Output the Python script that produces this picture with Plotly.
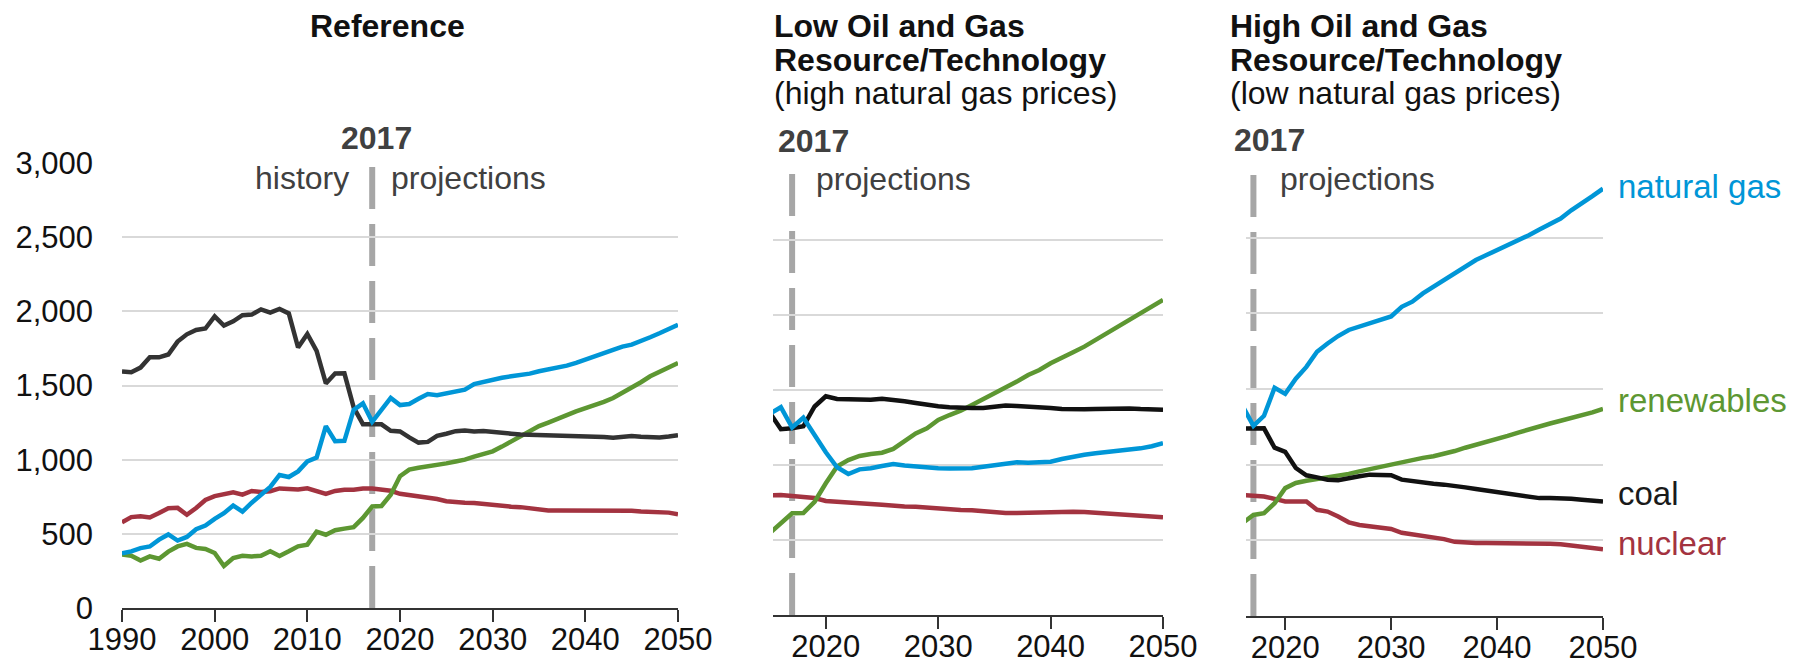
import plotly.graph_objects as go

# ---------------- data (billion kWh) ----------------
ref_years = list(range(1990, 2051))
ref_coal = [1595, 1590, 1621, 1690, 1690, 1709, 1796, 1845, 1874, 1884, 1966, 1904, 1933, 1974, 1978,
            2013, 1991, 2016, 1986, 1756, 1847, 1733, 1514, 1581, 1582, 1352, 1239, 1240, 1238, 1195,
            1190, 1150, 1115, 1120, 1160, 1175, 1192, 1196, 1190, 1194, 1190, 1180, 1175, 1170, 1168,
            1168, 1167, 1166, 1166, 1165, 1162, 1158, 1152, 1148, 1155, 1160, 1155, 1150, 1150, 1156, 1165]
ref_gas = [368, 382, 404, 415, 461, 496, 455, 479, 531, 556, 601, 639, 691, 650, 710,
           761, 816, 897, 883, 921, 988, 1014, 1226, 1125, 1127, 1335, 1380, 1255, 1340, 1416,
           1368, 1375, 1410, 1443, 1435, 1448, 1460, 1472, 1510, 1525, 1540, 1552, 1562, 1570, 1580,
           1596, 1608, 1620, 1634, 1652, 1672, 1695, 1718, 1740, 1762, 1775, 1797, 1825, 1852, 1880, 1910]
ref_nuclear = [577, 613, 619, 610, 640, 673, 675, 629, 674, 728, 754, 769, 780, 764, 789,
               782, 787, 806, 806, 799, 807, 790, 769, 789, 797, 797, 806, 805, 800, 790,
               770, 762, 758, 745, 735, 720, 712, 710, 708, 700, 692, 688, 683, 680, 672,
               664, 658, 658, 658, 660, 662, 662, 662, 662, 660, 656, 650, 647, 645, 643, 632]
ref_renew = [360, 352, 320, 348, 332, 380, 415, 432, 405, 398, 371, 283, 337, 352, 348,
             352, 382, 350, 382, 416, 427, 515, 494, 524, 535, 545, 607, 685, 688, 764,
             888, 933, 946, 955, 962, 975, 988, 1000, 1020, 1036, 1056, 1088, 1122, 1156, 1191,
             1226, 1250, 1272, 1300, 1326, 1345, 1364, 1390, 1416, 1450, 1483, 1522, 1562, 1592, 1620, 1652]

low_years = list(range(2015, 2051))
low_coal = [1350, 1239, 1245, 1258, 1390, 1458, 1440, 1436, 1432, 1435, 1442, 1436, 1425, 1413, 1400,
            1391, 1385, 1380, 1380, 1380, 1388, 1396, 1394, 1391, 1386, 1380, 1374, 1369, 1371, 1373,
            1376, 1380, 1377, 1373, 1370, 1369]
low_gas = [1340, 1385, 1250, 1315, 1200, 1085, 985, 940, 971, 978, 993, 1007, 996, 989, 985,
           978, 976, 978, 978, 989, 998, 1007, 1018, 1015, 1018, 1022, 1040, 1056, 1068, 1078,
           1085, 1096, 1102, 1111, 1125, 1145]
low_nuclear = [797, 800, 793, 790, 780, 760, 756, 755, 745, 740, 735, 728, 724, 722, 715,
               707, 702, 700, 698, 690, 684, 680, 680, 682, 685, 688, 688, 688, 686, 682,
               678, 672, 666, 662, 658, 652]
low_renew = [545, 612, 678, 680, 755, 878, 990, 1033, 1060, 1073, 1082, 1107, 1160, 1211, 1245,
             1300, 1333, 1362, 1400, 1438, 1478, 1518, 1556, 1600, 1633, 1678, 1718, 1751, 1789, 1833,
             1873, 1918, 1967, 2011, 2056, 2100]

high_years = list(range(2016, 2051))
high_coal = [1239, 1240, 1240, 1112, 1085, 978, 930, 916, 901, 897, 912, 923, 934, 934, 930,
             901, 890, 879, 874, 868, 861, 850, 839, 830, 819, 812, 801, 790, 779, 779,
             779, 774, 768, 763, 757]
high_gas = [1385, 1256, 1323, 1508, 1468, 1568, 1646, 1746, 1801, 1850, 1890, 1912, 1930, 1952, 1979,
            2043, 2077, 2132, 2176, 2220, 2264, 2308, 2352, 2385, 2418, 2444, 2479, 2516, 2554, 2589,
            2626, 2681, 2725, 2774, 2824]
high_nuclear = [800, 798, 790, 774, 757, 757, 757, 702, 690, 657, 619, 601, 590, 583, 575,
                550, 539, 530, 523, 508, 490, 483, 483, 483, 483, 483, 483, 481, 479, 477,
                474, 468, 457, 450, 441]
high_renew = [615, 668, 679, 745, 845, 879, 894, 905, 912, 923, 939, 956, 972, 985, 1001,
              1019, 1034, 1045, 1056, 1072, 1090, 1112, 1130, 1150, 1168, 1190, 1212, 1234, 1254, 1272,
              1290, 1307, 1327, 1345, 1368]

divider_year = 2017
y_ticks = [0, 500, 1000, 1500, 2000, 2500, 3000]
y_ticktext = ["0", "500", "1,000", "1,500", "2,000", "2,500", "3,000"]
x_ticks_ref = [1990, 2000, 2010, 2020, 2030, 2040, 2050]
x_ticks_proj = [2020, 2030, 2040, 2050]

panel_titles = [
    ["<b>Reference</b>"],
    ["<b>Low Oil and Gas</b>", "<b>Resource/Technology</b>", "(high natural gas prices)"],
    ["<b>High Oil and Gas</b>", "<b>Resource/Technology</b>", "(low natural gas prices)"],
]
series_labels = ["natural gas", "renewables", "coal", "nuclear"]

# ---------------- styling ----------------
W, H = 1801, 671
OFF = 8  # default page body margin
FW, FH = W - OFF, H - OFF
FONT = "Liberation Sans, Arial, Helvetica, sans-serif"
C_GAS = "#0096D7"
C_REN = "#5D9732"
C_COAL1 = "#333333"
C_COAL = "#111111"
C_NUC = "#A33340"
C_TXT = "#404040"
LW = 4.5


def px(x):
    return (x - OFF) / FW


def py(y):
    return 1 - (y - OFF) / FH


fig = go.Figure()

panels = [
    ("x", "y", ref_years, ref_coal, ref_gas, ref_nuclear, ref_renew, C_COAL1),
    ("x2", "y2", low_years, low_coal, low_gas, low_nuclear, low_renew, C_COAL),
    ("x3", "y3", high_years, high_coal, high_gas, high_nuclear, high_renew, C_COAL),
]
for xa, ya, yrs, coal, gas, nuc, ren, ccoal in panels:
    for vals, col in [(nuc, C_NUC), (ren, C_REN), (coal, ccoal), (gas, C_GAS)]:
        fig.add_trace(go.Scatter(x=yrs, y=vals, xaxis=xa, yaxis=ya, mode="lines",
                                 line=dict(color=col, width=LW), showlegend=False,
                                 hoverinfo="skip"))
    # 2017 divider
    fig.add_shape(type="line", xref=xa, yref=ya, x0=divider_year, x1=divider_year,
                  y0=0, y1=3000, line=dict(color="#A6A6A6", width=6, dash="42px,15px"),
                  layer="below")

common_x = dict(showgrid=False, zeroline=False, showline=True, linecolor="#333333", linewidth=2,
                ticks="outside", ticklen=12, tickwidth=2, tickcolor="#333333", automargin=False,
                tickfont=dict(family=FONT, size=31, color="#111111"), ticklabelstandoff=-9)
common_y = dict(range=[0, 3000], tickvals=y_ticks, showgrid=True, gridcolor="#D9D9D9",
                gridwidth=1.5, zeroline=False, showline=False, ticks="", automargin=False)

fig.update_layout(
    width=FW, height=FH, margin=dict(l=0, r=0, t=0, b=0, pad=0, autoexpand=False),
    paper_bgcolor="white", plot_bgcolor="white",
    font=dict(family=FONT, color="#111111"),
    xaxis=dict(domain=[px(122), px(678)], range=[1990, 2050], tickvals=x_ticks_ref,
               anchor="y", **common_x),
    yaxis=dict(domain=[py(608), py(163)], anchor="x", ticktext=y_ticktext, showticklabels=True,
               tickfont=dict(family=FONT, size=31, color="#111111"), ticklabelstandoff=28,
               **common_y),
    xaxis2=dict(domain=[px(773), px(1163)], range=[2015.3, 2050], tickvals=x_ticks_proj,
                anchor="y2", **common_x),
    yaxis2=dict(domain=[py(615), py(165)], anchor="x2", showticklabels=False, **common_y),
    xaxis3=dict(domain=[px(1246), px(1603)], range=[2016.3, 2050], tickvals=x_ticks_proj,
                anchor="y3", **common_x),
    yaxis3=dict(domain=[py(616), py(162)], anchor="x3", showticklabels=False, **common_y),
)


def text(x, baseline, s, size=32, color="#111111", xanchor="left"):
    fig.add_annotation(xref="paper", yref="paper", x=px(x), y=py(baseline - 0.35 * size),
                       text=s, showarrow=False, xanchor=xanchor, yanchor="middle",
                       font=dict(family=FONT, size=size, color=color), borderpad=0)


# titles
text(387, 37, panel_titles[0][0], xanchor="center")
for line, base in zip(panel_titles[1], [37, 71, 104]):
    text(773, base, line)
for line, base in zip(panel_titles[2], [37, 71, 104]):
    text(1229, base, line)

# 2017 / history / projections labels
text(376, 149, "<b>%d</b>" % divider_year, color=C_TXT, xanchor="center")
text(350, 189, "history", color=C_TXT, xanchor="right")
text(390, 189, "projections", color=C_TXT)
text(777, 152, "<b>%d</b>" % divider_year, color=C_TXT)
text(815, 190, "projections", color=C_TXT)
text(1233, 151, "<b>%d</b>" % divider_year, color=C_TXT)
text(1279, 190, "projections", color=C_TXT)

# right-side series labels (panel 3)
label_y = [187, 400, 494, 543]
label_c = [C_GAS, C_REN, "#1a1a1a", C_NUC]
for s, yy, c in zip(series_labels, label_y, label_c):
    fig.add_annotation(xref="paper", yref="paper", x=px(1617), y=py(yy), text=s,
                       showarrow=False, xanchor="left", yanchor="middle",
                       font=dict(family=FONT, size=33, color=c), borderpad=0)

fig.write_html("out.html")
